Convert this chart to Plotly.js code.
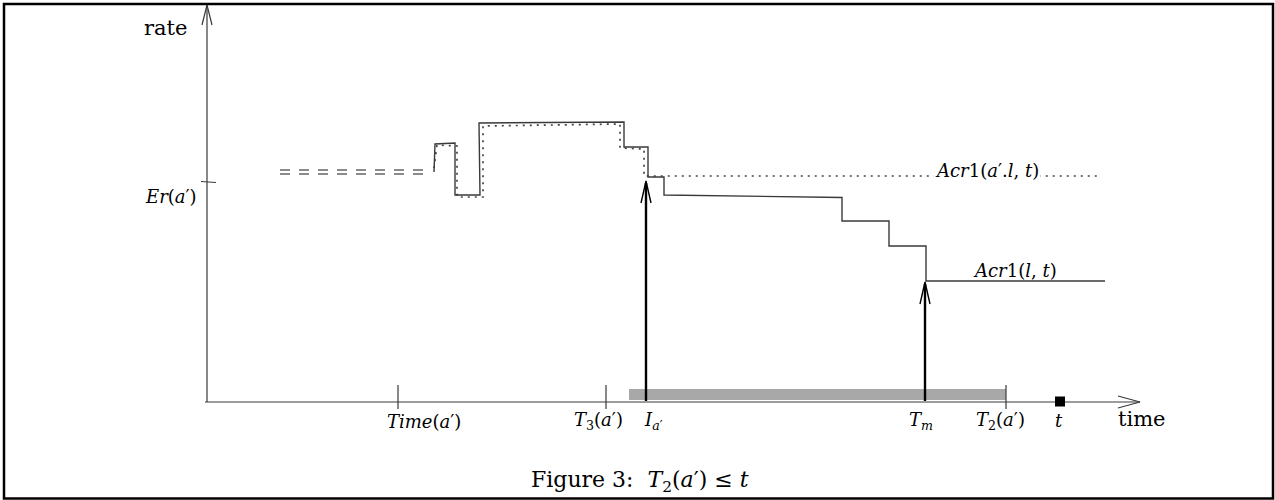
<!DOCTYPE html>
<html>
<head>
<meta charset="utf-8">
<script src="https://cdn.plot.ly/plotly-3.0.1.min.js"></script>
<style>
html,body{margin:0;padding:0;background:#fff;}
#chart{width:1275px;height:500px;}
</style>
</head>
<body>
<div id="chart"></div>
<script>
// Diagram coordinates (x: time position, y: rate position; y grows downward)
const stepX = [434, 435, 455, 455, 480, 479, 624, 624, 648, 648, 664, 664, 842, 842, 889, 889, 926, 926, 1105];
const stepY = [172, 144, 143, 195, 195, 123, 122, 147, 147, 177, 177, 195, 197.5, 221, 221, 246, 246, 281, 281];

const dotX = [434, 437, 457, 457, 483, 483, 620, 620, 644, 644, 1100];
const dotY = [168, 145, 146, 197, 197, 126, 124, 148, 149, 176, 176];

const dashX = [280, 432];
const dashY = [170, 174];

const originX = 207, originY = 402;
const yAxisTop = 5, xAxisEnd = 1140;
const erY = 182;

const tickX = [398, 606, 1006];
const tickLabels = ["<i>Time</i>(<i>a</i>′)", "<i>T</i><sub>3</sub>(<i>a</i>′)", "<i>T</i><sub>2</sub>(<i>a</i>′)"];
const tickLabelX = [424, 598, 1000];

const intervalX = [629, 1006];
const intervalY = [389, 400];

const arrowX = [646, 925];
const arrowTipY = [181, 282];

const tPoint = {x: 1060, y: 401.5};

const lineCol = '#3a3a3a';
const traces = [];

// shaded interval
traces.push({x:[intervalX[0],intervalX[1],intervalX[1],intervalX[0],intervalX[0]],
  y:[intervalY[0],intervalY[0],intervalY[1],intervalY[1],intervalY[0]],
  mode:'lines', fill:'toself', fillcolor:'#a8a8a8', line:{width:0}});

// axes
traces.push({x:[205, xAxisEnd], y:[originY, originY], mode:'lines', line:{color:lineCol, width:1.2}});
traces.push({x:[xAxisEnd-22, xAxisEnd, xAxisEnd-22], y:[originY-6, originY, originY+6], mode:'lines', line:{color:lineCol, width:1.2}});
traces.push({x:[originX, originX], y:[originY, yAxisTop], mode:'lines', line:{color:lineCol, width:1.2}});
traces.push({x:[originX-5, originX, originX+5], y:[yAxisTop+20, yAxisTop, yAxisTop+20], mode:'lines', line:{color:lineCol, width:1.2}});

// ticks
const tx = [], ty = [];
tickX.forEach(v => { tx.push(v, v, null); ty.push(385, 409, null); });
tx.push(201, 216, null); ty.push(erY-0.5, erY+0.5, null);
traces.push({x:tx, y:ty, mode:'lines', line:{color:lineCol, width:1.2}});

// double dashed line
dashY.forEach(yv => traces.push({x:dashX, y:[yv, yv], mode:'lines', line:{color:'#666', width:1.5, dash:'10px,9px'}}));

// dotted line
traces.push({x:dotX, y:dotY, mode:'lines', line:{color:'#444', width:1.7, dash:'2px,5px'}});

// solid step line
traces.push({x:stepX, y:stepY, mode:'lines', line:{color:lineCol, width:1.4}});

// up arrows
arrowX.forEach((ax, i) => {
  traces.push({x:[ax, ax], y:[originY-1, arrowTipY[i]+2], mode:'lines', line:{color:'#000', width:2.4}});
  traces.push({x:[ax-5, ax, ax+5], y:[arrowTipY[i]+22, arrowTipY[i], arrowTipY[i]+22], mode:'lines', line:{color:'#000', width:1.4}});
});

// t point
traces.push({x:[tPoint.x], y:[tPoint.y], mode:'markers', marker:{symbol:'square', size:10, color:'#000'}});

const ser = 'DejaVu Serif';
const mathFont = {family: ser, size: 18, color:'#000'};
const ann = (x, y, text, font, extra) => Object.assign({x, y, xref:'x', yref:'y', text, showarrow:false, font, xanchor:'center', yanchor:'middle'}, extra||{});

const annotations = [
  ann(165, 28, 'rate', {family: ser, size: 21, color:'#000'}),
  ann(1142, 419, 'time', {family: ser, size: 21, color:'#000'}),
  ann(171, 196, '<i>Er</i>(<i>a</i>′)', mathFont),
  ann(653, 421, '<i>I</i><sub><i>a</i>′</sub>', mathFont),
  ann(921, 421, '<i>T</i><sub><i>m</i></sub>', mathFont),
  ann(1059, 420, '<i>t</i>', mathFont),
  ann(987, 170, '<i>Acr</i>1(<i>a</i>′.<i>l</i>, <i>t</i>)', mathFont, {bgcolor:'#fff'}),
  ann(1015, 270, '<i>Acr</i>1(<i>l</i>, <i>t</i>)', mathFont),
  ann(640, 481, 'Figure 3:  <i>T</i><sub>2</sub>(<i>a</i>′) ≤ <i>t</i>', {family: ser, size: 22, color:'#000'})
];
tickX.forEach((v, i) => annotations.push(ann(tickLabelX[i], 421, tickLabels[i], mathFont)));

const layout = {
  width:1275, height:500,
  margin:{l:0, r:0, t:0, b:0},
  paper_bgcolor:'#fff', plot_bgcolor:'#fff',
  showlegend:false, hovermode:false,
  xaxis:{range:[0,1275], visible:false, fixedrange:true},
  yaxis:{range:[500,0], visible:false, fixedrange:true},
  annotations,
  shapes:[{type:'rect', xref:'x', yref:'y', x0:4, y0:4, x1:1273, y1:498.5, line:{color:'#000', width:2.5}}]
};

Plotly.newPlot('chart', traces, layout, {staticPlot:true, displayModeBar:false});
</script>
</body>
</html>
